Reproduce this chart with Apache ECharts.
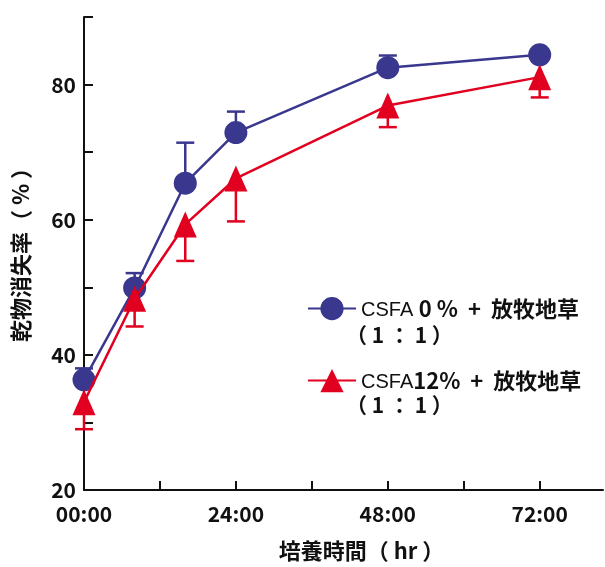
<!DOCTYPE html>
<html>
<head>
<meta charset="utf-8">
<script src="https://cdn.jsdelivr.net/npm/echarts@6/dist/echarts.min.js"></script>
<style>
html,body{margin:0;padding:0;background:#fff;}
#chart{width:605px;height:567px;}
</style>
</head>
<body>
<div id="chart"></div>
<script>
// ---- data ----
const hours = [0, 8, 16, 24, 48, 72];
const csfa0 = [36.3, 49.9, 65.4, 72.9, 82.5, 84.4];
const csfa0Upper = [38.0, 52.1, 71.4, 76.0, 84.3, null];
const csfa12 = [33.0, 48.3, 59.3, 66.1, 76.9, 81.1];
const csfa12Lower = [29.0, 44.2, 53.9, 59.75, 73.7, 78.1];
const xTickValues = [12, 24, 36, 48, 60, 72];
const xLabelValues = [0, 24, 48, 72];
const yTickValues = [30, 40, 50, 60, 70, 80, 90];
const yLabelValues = [20, 40, 60, 80];
const seriesNames = ['CSFA0', 'CSFA12'];

const BLUE = '#39378e';
const RED = '#e1001f';
const CJK = '"Noto Sans CJK JP", "Noto Sans CJK SC", sans-serif';

function errSeries(vals, errs, color) {
  const d = hours.map((h, i) => [h, vals[i], errs[i]]).filter(p => p[2] != null);
  return {
    type: 'custom',
    data: d,
    silent: true,
    z: 1,
    renderItem: function (params, api) {
      const p0 = api.coord([api.value(0), api.value(1)]);
      const p1 = api.coord([api.value(0), api.value(2)]);
      const half = 9;
      const st = { stroke: color, lineWidth: 2.5, fill: 'none' };
      return {
        type: 'group',
        children: [
          { type: 'line', shape: { x1: p0[0], y1: p0[1], x2: p1[0], y2: p1[1] }, style: st },
          { type: 'line', shape: { x1: p1[0] - half, y1: p1[1], x2: p1[0] + half, y2: p1[1] }, style: st }
        ]
      };
    }
  };
}

const richStyles = {
  a: { fontFamily: '"Liberation Sans", Arial, sans-serif', fontSize: 20, color: '#111', padding: [4, 0, 0, 0] },
  b: { fontFamily: CJK, fontWeight: 'bold', fontSize: 22, color: '#111' }
};

const chart = echarts.init(document.getElementById('chart'));
chart.setOption({
  animation: false,
  backgroundColor: '#fff',
  grid: { left: 84, right: 2, top: 17, bottom: 74 },
  xAxis: {
    type: 'value',
    min: 0, max: 82, interval: 12,
    name: '培養時間（ hr ）',
    nameLocation: 'middle',
    nameGap: 50,
    nameTextStyle: { fontFamily: CJK, fontWeight: 'bold', fontSize: 22, color: '#111', padding: [0, 0, 0, 36] },
    axisLine: { lineStyle: { color: '#111', width: 2 } },
    axisTick: { inside: true, length: 9, customValues: xTickValues, lineStyle: { color: '#111', width: 2 } },
    axisLabel: {
      customValues: xLabelValues,
      margin: 14,
      fontFamily: CJK, fontWeight: 'bold', fontSize: 21, color: '#111',
      formatter: v => (v < 10 ? '0' : '') + v + ':00'
    },
    splitLine: { show: false }
  },
  yAxis: {
    type: 'value',
    min: 20, max: 90, interval: 10,
    name: '乾物消失率（ % ）',
    nameLocation: 'middle',
    nameRotate: 90,
    nameGap: 52,
    nameTextStyle: { fontFamily: CJK, fontWeight: 'bold', fontSize: 22, color: '#111', padding: [0, 0, 0, 8] },
    axisLine: { show: true, lineStyle: { color: '#111', width: 2 } },
    axisTick: { show: true, inside: true, length: 9, customValues: yTickValues, lineStyle: { color: '#111', width: 2 } },
    axisLabel: {
      customValues: yLabelValues,
      margin: 8,
      fontFamily: CJK, fontWeight: 'bold', fontSize: 21, color: '#111'
    },
    splitLine: { show: false }
  },
  legend: [
    {
      data: [seriesNames[0]],
      left: 302, top: 292,
      itemWidth: 48, itemHeight: 29, itemGap: 0,
      textStyle: { rich: richStyles },
      formatter: () => '{a|CSFA }{b|0 %  +  放牧地草}'
    },
    {
      data: [seriesNames[1]],
      left: 302, top: 364,
      itemWidth: 48, itemHeight: 29, itemGap: 0,
      textStyle: { rich: richStyles },
      formatter: () => '{a|CSFA}{b|12%  +  放牧地草}'
    }
  ],
  graphic: [
    { type: 'text', left: 346, top: 325, style: { text: '（ 1 ： 1 ）', font: 'bold 21px ' + CJK, fill: '#111' } },
    { type: 'text', left: 346, top: 395, style: { text: '（ 1 ： 1 ）', font: 'bold 21px ' + CJK, fill: '#111' } }
  ],
  series: [
    errSeries(csfa0, csfa0Upper, BLUE),
    {
      name: seriesNames[0],
      type: 'line',
      data: hours.map((h, i) => [h, csfa0[i]]),
      symbol: 'circle', symbolSize: 23,
      lineStyle: { color: BLUE, width: 2.5 },
      itemStyle: { color: BLUE },
      z: 2
    },
    errSeries(csfa12, csfa12Lower, RED),
    {
      name: seriesNames[1],
      type: 'line',
      data: hours.map((h, i) => [h, csfa12[i]]),
      symbol: 'triangle', symbolSize: [23, 26],
      lineStyle: { color: RED, width: 2.5 },
      itemStyle: { color: RED },
      z: 3
    }
  ]
});
</script>
</body>
</html>
